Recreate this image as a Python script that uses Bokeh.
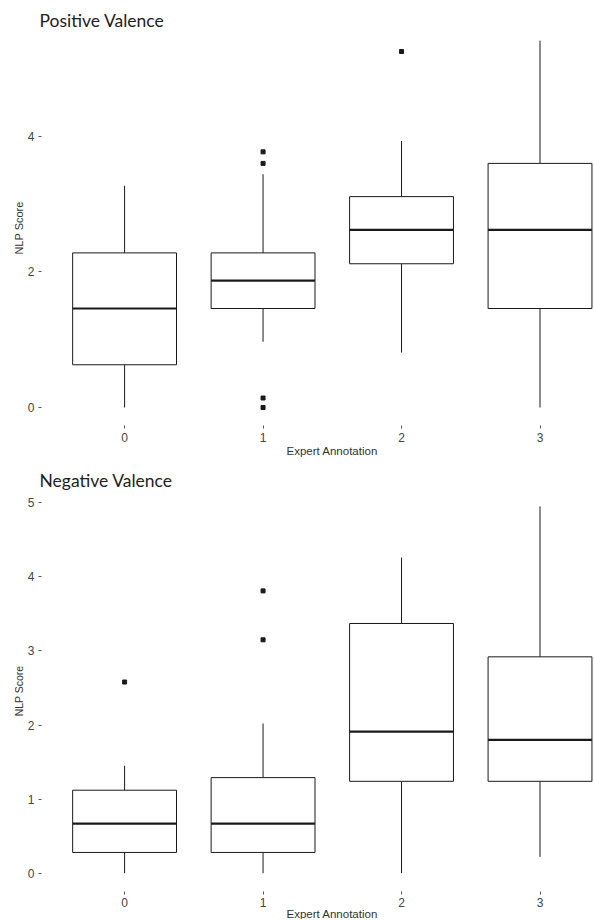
from bokeh.plotting import figure
from bokeh.models import Range1d, FixedTicker, Title
from bokeh.layouts import column
from bokeh.embed import file_html
from bokeh.resources import INLINE

# ---- data ----
categories = [0, 1, 2, 3]
x_tick_labels = ["0", "1", "2", "3"]

pos_lower = [0.0, 0.97, 0.81, 0.0]
pos_q1 = [0.63, 1.46, 2.12, 1.46]
pos_median = [1.46, 1.87, 2.62, 2.62]
pos_q3 = [2.28, 2.28, 3.11, 3.60]
pos_upper = [3.27, 3.44, 3.93, 5.41]
pos_out_x = [1, 1, 1, 1, 2]
pos_out_y = [3.77, 3.60, 0.14, 0.0, 5.25]
pos_y_ticks = [0, 2, 4]

neg_lower = [0.0, 0.0, 0.0, 0.22]
neg_q1 = [0.28, 0.28, 1.24, 1.24]
neg_median = [0.67, 0.67, 1.91, 1.80]
neg_q3 = [1.12, 1.29, 3.37, 2.92]
neg_upper = [1.45, 2.02, 4.26, 4.95]
neg_out_x = [0, 1, 1]
neg_out_y = [2.58, 3.15, 3.81]
neg_y_ticks = [0, 1, 2, 3, 4, 5]

BOX_W = 0.75
INK = "#1a1a1a"
TICK_COL = "#444444"


def make_panel(title, lower, q1, med, q3, upper, out_x, out_y, y_ticks,
               y_range, height, min_top, min_bottom, ylab_size,
               x_label_standoff, xlab_standoff):
    p = figure(width=594, height=height,
               x_range=Range1d(-0.6, 3.3935), y_range=Range1d(*y_range),
               output_backend="svg", toolbar_location=None,
               min_border_left=41, min_border_right=0,
               min_border_top=min_top, min_border_bottom=min_bottom)
    p.outline_line_color = None
    p.xgrid.visible = False
    p.ygrid.visible = False
    p.background_fill_color = "white"
    p.border_fill_color = "white"

    # whiskers
    p.segment(x0=categories, y0=q3, x1=categories, y1=upper,
              line_color=INK, line_width=1)
    p.segment(x0=categories, y0=q1, x1=categories, y1=lower,
              line_color=INK, line_width=1)
    # boxes
    p.vbar(x=categories, width=BOX_W, bottom=q1, top=q3,
           fill_color="white", line_color=INK, line_width=1)
    # medians
    p.segment(x0=[c - BOX_W / 2 for c in categories], y0=med,
              x1=[c + BOX_W / 2 for c in categories], y1=med,
              line_color=INK, line_width=2.2)
    # outliers
    p.scatter(x=out_x, y=out_y, marker="square", size=4,
              fill_color=INK, line_color=INK)

    # axes
    p.xaxis.ticker = FixedTicker(ticks=categories)
    p.xaxis.major_label_overrides = {c: l for c, l in zip(categories, x_tick_labels)}
    p.yaxis.ticker = FixedTicker(ticks=y_ticks)
    for ax in (p.xaxis, p.yaxis):
        ax.axis_line_color = None
        ax.minor_tick_line_color = None
        ax.major_tick_line_color = "#555555"
        ax.major_tick_out = 3
        ax.major_tick_in = 0
        ax.major_label_text_font = "Liberation Sans"
        ax.major_label_text_font_size = "12px"
        ax.major_label_text_color = TICK_COL
    p.xaxis.major_label_standoff = x_label_standoff
    p.yaxis.major_label_standoff = 4

    p.yaxis.axis_label = "NLP Score"
    p.yaxis.axis_label_text_font = "Liberation Sans"
    p.yaxis.axis_label_text_font_size = ylab_size
    p.yaxis.axis_label_text_font_style = "normal"
    p.yaxis.axis_label_text_color = "#333333"
    p.yaxis.axis_label_standoff = 0

    # panel title
    p.title.text = title
    p.title.text_font = "Lato"
    p.title.text_font_size = "17.5px"
    p.title.text_font_style = "normal"
    p.title.text_color = "#222222"
    p.title.align = "left"
    p.title.offset = -2
    p.title.standoff = 0

    # x axis title (shifted right like the reference)
    p.add_layout(Title(text="Expert Annotation", align="left", offset=245,
                       text_font="Liberation Sans", text_font_size="11.5px",
                       text_font_style="normal", text_color="#333333",
                       vertical_align="top", standoff=xlab_standoff),
                 "below")
    return p


top = make_panel("Positive Valence", pos_lower, pos_q1, pos_median, pos_q3,
                 pos_upper, pos_out_x, pos_out_y, pos_y_ticks,
                 y_range=(-0.2655, 5.560), height=462, min_top=30,
                 min_bottom=37, ylab_size="11px", x_label_standoff=4,
                 xlab_standoff=0)
bottom = make_panel("Negative Valence", neg_lower, neg_q1, neg_median, neg_q3,
                    neg_upper, neg_out_x, neg_out_y, neg_y_ticks,
                    y_range=(-0.247, 5.165), height=457, min_top=28,
                    min_bottom=28, ylab_size="10.5px", x_label_standoff=3,
                    xlab_standoff=-4)

layout = column(top, bottom, spacing=0)
open("out.html", "w").write(file_html(layout, INLINE))
